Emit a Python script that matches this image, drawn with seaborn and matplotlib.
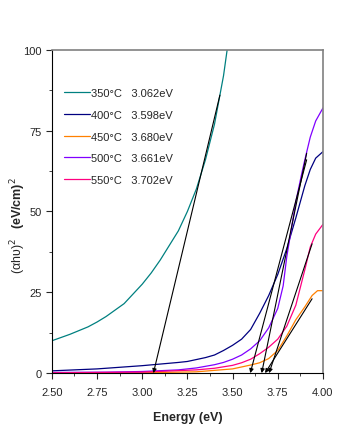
import numpy as np
import pandas as pd
import matplotlib
matplotlib.use("Agg")
import matplotlib.pyplot as plt
import seaborn as sns

# digitised (alpha h nu)^2 curves
e350 = [2.50, 2.60, 2.70, 2.75, 2.80, 2.90, 3.00, 3.05, 3.10, 3.15, 3.20, 3.25, 3.30, 3.35, 3.40, 3.43, 3.45, 3.47]
v350 = [10, 12, 14.3, 15.8, 17.5, 21.5, 27.5, 31, 35, 39.5, 44, 50, 57, 66, 77, 86, 92, 100]

e400 = [2.50, 2.75, 3.00, 3.10, 3.20, 3.25, 3.30, 3.35, 3.40, 3.45, 3.50, 3.55, 3.60, 3.65,
        3.70, 3.75, 3.80, 3.85, 3.90, 3.93, 3.96, 4.00]
v400 = [0.7, 1.3, 2.3, 2.8, 3.3, 3.6, 4.2, 4.8, 5.6, 7, 8.6, 10.5, 13.5, 18.5,
        24, 30.5, 38.5, 48, 58, 63, 66.5, 68.5]

e450 = [2.50, 3.00, 3.30, 3.50, 3.60, 3.65, 3.70, 3.75, 3.80, 3.85, 3.90, 3.94, 3.97, 4.00]
v450 = [0, 0.1, 0.4, 1.3, 2.5, 3.2, 4.5, 7, 11.5, 16.5, 20.5, 24, 25.5, 25.5]

e500 = [2.50, 2.80, 3.00, 3.20, 3.30, 3.40, 3.45, 3.50, 3.55, 3.60, 3.65, 3.70, 3.75, 3.78,
        3.80, 3.85, 3.88, 3.90, 3.93, 3.96, 4.00]
v500 = [0.2, 0.3, 0.5, 1, 1.6, 2.6, 3.3, 4.3, 5.6, 7.5, 10, 14, 20, 27,
        36, 53, 61, 66, 73, 78, 82]

e550 = [2.50, 3.00, 3.30, 3.40, 3.50, 3.55, 3.60, 3.65, 3.70, 3.75, 3.80, 3.85, 3.90, 3.93, 3.96, 4.00]
v550 = [0.1, 0.3, 1, 1.5, 2.4, 3.2, 4.3, 6, 8, 10.5, 14.5, 21, 32, 39, 43, 46]

labels = ["350°C   3.062eV", "400°C   3.598eV", "450°C   3.680eV",
          "500°C   3.661eV", "550°C   3.702eV"]
colors = ["#008080", "#000080", "#ff8000", "#8000ff", "#ff0080"]

# tangent lines: intercept, upper end x, upper end y
tan_x0 = [3.062, 3.598, 3.680, 3.661, 3.702]
tan_x1 = [3.43, 3.91, 3.94, 3.91, 3.94]
tan_y1 = [86, 66, 23, 68, 40]

frames = []
for lab, e, v in zip(labels, [e350, e400, e450, e500, e550],
                     [v350, v400, v450, v500, v550]):
    frames.append(pd.DataFrame({"E": e, "V": v, "s": lab}))
df = pd.concat(frames, ignore_index=True)

sns.set_style("ticks")
plt.rcParams["font.family"] = ["Liberation Sans Narrow", "Liberation Sans", "DejaVu Sans"]

fig = plt.figure(figsize=(3.6, 4.31), dpi=100)
ax = fig.add_axes([0.144, 0.132, 0.753, 0.750])

sns.lineplot(data=df, x="E", y="V", hue="s", palette=colors, hue_order=labels,
             linewidth=0.9, ax=ax, sort=False, estimator=None)

for x0, x1, y1 in zip(tan_x0, tan_x1, tan_y1):
    ax.annotate("", xy=(x0, 0), xytext=(x1, y1),
                arrowprops=dict(arrowstyle="-|>", color="black", lw=0.8,
                                mutation_scale=6, shrinkA=0, shrinkB=0))

ax.set_xlim(2.5, 4.0)
ax.set_ylim(0, 100)
ax.set_xticks([2.50, 2.75, 3.00, 3.25, 3.50, 3.75, 4.00])
ax.set_xticklabels(["2.50", "2.75", "3.00", "3.25", "3.50", "3.75", "4.00"])
ax.set_yticks([0, 25, 50, 75, 100])
ax.set_xticks(np.arange(2.5, 4.01, 0.125), minor=True)
ax.set_yticks(np.arange(0, 101, 12.5), minor=True)
ax.tick_params(axis="both", which="major", labelsize=8, length=4, width=0.8, direction="out")
ax.tick_params(axis="x", which="major", pad=6)
ax.tick_params(axis="both", which="minor", length=2, width=0.6, direction="out")
for s in ["top", "right"]:
    ax.spines[s].set_visible(True)
    ax.spines[s].set_color("#808080")
    ax.spines[s].set_linewidth(1.2)
for s in ["left", "bottom"]:
    ax.spines[s].set_color("black")
    ax.spines[s].set_linewidth(0.8)

ax.set_xlabel("Energy (eV)", fontsize=9, fontweight="bold", labelpad=10)
ax.set_ylabel("")
fig.text(0.05, 0.405, "(αhυ)$^{2}$", rotation=90, fontsize=9, ha="center", va="center")
fig.text(0.05, 0.53, "(eV/cm)$^{2}$", rotation=90, fontsize=9, fontweight="bold",
         ha="center", va="center")

ax.legend(loc="upper left", bbox_to_anchor=(0.03, 0.895), frameon=False, fontsize=8,
          handlelength=2.3, handletextpad=0.1, labelspacing=1.05, borderaxespad=0)

plt.savefig("out.png", dpi=100)
